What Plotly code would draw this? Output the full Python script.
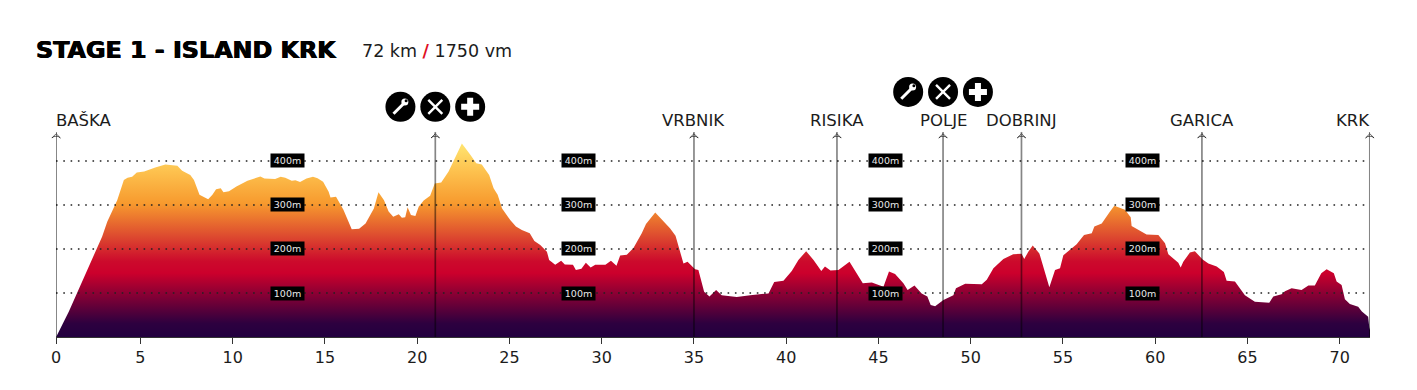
import plotly.graph_objects as go

km = [0.43,1.12,2.92,3.2,3.74,4.1,4.3,4.55,4.8,5.2,5.8,6.35,7.0,7.26,7.7,7.9,8.2,8.44,8.67,8.9,9.1,9.35,9.5,9.8,10.2,10.8,11.15,11.5,11.72,12.3,12.6,12.85,13.2,13.4,13.65,14.0,14.35,14.6,14.9,15.2,15.3,15.6,16.0,16.27,16.45,16.85,17.2,17.65,17.9,18.2,18.45,18.7,19.0,19.17,19.35,19.48,19.66,19.9,20.08,20.35,20.7,20.95,21.3,21.7,22.06,22.42,22.88,23.2,23.5,23.9,24.14,24.36,24.6,25.04,25.35,25.67,26.1,26.35,26.67,27.03,27.15,27.48,27.8,28.0,28.44,28.6,28.9,29.14,29.4,29.65,30.2,30.5,30.8,31.0,31.36,31.72,32.17,32.4,32.9,33.35,33.7,34.0,34.43,34.65,35.06,35.24,35.55,35.84,36.2,36.5,36.96,37.32,38.05,39.04,39.35,39.85,40.3,40.66,41.08,41.48,41.9,42.1,42.4,42.83,43.43,43.82,44.15,44.64,45.27,45.57,45.9,46.35,46.58,46.95,47.34,47.65,47.83,48.07,48.52,49.06,49.2,49.7,50.6,50.87,51.23,51.77,52.3,52.76,52.9,53.12,53.36,53.72,53.94,54.26,54.57,54.84,55.02,55.74,56.14,56.56,56.7,57.1,57.55,57.78,58.36,58.67,58.72,59.17,59.53,60.17,60.53,60.71,61.25,61.38,61.52,61.88,62.15,62.57,62.88,63.33,63.72,63.87,64.32,64.86,65.4,66.18,66.4,66.85,67.03,67.39,67.93,68.3,68.65,69.0,69.29,69.68,69.83,70.1,70.28,70.55,71.0,71.2,71.54,71.6,71.68,71.72]
elevation = [0,58,228,262,311,357,362,364,374,376,385,392,389,378,368,357,323,317,313,323,336,338,329,331,342,355,360,365,360,359,364,362,355,356,352,360,364,361,353,330,317,319,289,262,245,246,258,292,329,311,285,273,279,271,272,295,277,275,296,310,321,349,351,376,410,440,414,395,392,368,338,323,292,266,251,243,236,218,209,194,175,164,173,165,164,152,155,169,158,164,164,173,162,185,187,202,236,257,283,262,247,230,167,171,154,152,103,92,107,95,92,91,95,99,125,128,150,175,195,175,150,160,151,152,171,145,122,124,114,149,143,122,107,117,99,92,73,70,84,95,111,121,120,130,156,177,188,189,177,194,208,190,160,113,152,156,186,211,232,236,251,258,285,298,289,272,252,242,233,232,213,188,169,158,171,192,195,176,167,160,148,128,126,95,80,78,92,97,104,111,107,117,117,145,154,145,126,118,86,75,69,58,46,22,10,3]

tick_km = [0.43,5,10,15,20,25,30,35,40,45,50,55,60,65,70]
tick_labels = ["0","5","10","15","20","25","30","35","40","45","50","55","60","65","70"]
grid_levels = [100,200,300,400]
grid_label_km = [12.96,28.73,45.36,59.3]
places = ["BAŠKA","VRBNIK","RISIKA","POLJE","DOBRINJ","GARICA","KRK"]
place_km = [0.43,35.0,42.75,48.5,52.75,62.53,71.63]
place_anchor = ["left","center","center","center","center","center","right"]
place_shift = [-2,0,0,0,0,0,2]
aid_km = [20.98,48.5]
aid_height = [523,557]
icon_offsets = [-1.89,0,1.89]

X0, X1 = 0.4225, 71.64
DARK = "#1c1c1c"
fig = go.Figure()

fig.add_trace(go.Scatter(
    x=km, y=elevation, mode="lines", fill="tozeroy", cliponaxis=False, line=dict(width=0, color="#ffe066"),
    fillgradient=dict(type="vertical", start=0, stop=440, colorscale=[
        [0.0,"#22003f"],[0.07,"#2d003f"],[0.33,"#cc002c"],[0.39,"#cc0a2c"],[0.52,"#dd4a2f"],
        [0.69,"#f79a2e"],[0.85,"#fdc04d"],[1.0,"#ffe570"]]),
    hoverinfo="skip"))

for lv in grid_levels:
    fig.add_trace(go.Scatter(x=[X0,X1], y=[lv,lv], mode="lines",
                             line=dict(color="#222222", width=1.6, dash="1.6px,5.7px"), hoverinfo="skip"))

for k in [place_km[0], aid_km[0]] + place_km[1:]:
    fig.add_trace(go.Scatter(x=[k,k], y=[0,466], mode="lines", cliponaxis=False,
                             line=dict(color="rgba(0,0,0,0.48)", width=1.7), hoverinfo="skip"))
    fig.add_trace(go.Scatter(x=[k], y=[462], mode="markers", cliponaxis=False,
                             marker=dict(symbol="arrow-wide-open", size=6, color="rgba(0,0,0,0.6)",
                                         line=dict(width=1, color="rgba(0,0,0,0.6)")), hoverinfo="skip"))

for k, h in zip(aid_km, aid_height):
    xs = [k+o for o in icon_offsets]
    fig.add_trace(go.Scatter(x=xs, y=[h]*3, mode="markers", cliponaxis=False,
                             marker=dict(symbol="circle", size=30, color="#000000"), hoverinfo="skip"))
    fig.add_trace(go.Scatter(x=[xs[0]-0.05], y=[h-2], mode="markers", cliponaxis=False,
                             marker=dict(symbol="line-ne", size=12, line=dict(color="#ffffff", width=3)), hoverinfo="skip"))
    fig.add_trace(go.Scatter(x=[xs[0]+0.24], y=[h+11], mode="markers", cliponaxis=False,
                             marker=dict(symbol="circle", size=7, color="#ffffff"), hoverinfo="skip"))
    fig.add_trace(go.Scatter(x=[xs[0]+0.31], y=[h+14], mode="markers", cliponaxis=False,
                             marker=dict(symbol="circle", size=3, color="#000000"), hoverinfo="skip"))
    fig.add_trace(go.Scatter(x=[xs[1]], y=[h], mode="markers", cliponaxis=False,
                             marker=dict(symbol="x-thin", size=14, line=dict(color="#ffffff", width=2.4)), hoverinfo="skip"))
    fig.add_trace(go.Scatter(x=[xs[2]], y=[h], mode="markers", cliponaxis=False,
                             marker=dict(symbol="cross", size=15, color="#ffffff"), hoverinfo="skip"))

fig.update_layout(
    width=1409, height=382, margin=dict(l=48, r=47, t=52, b=53),
    paper_bgcolor="#ffffff", plot_bgcolor="#ffffff", showlegend=False,
    title=dict(text="<b>STAGE 1 - ISLAND KRK</b>", x=28/1409, xanchor="left", y=1-42/382, yanchor="middle",
               xref="container", yref="container",
               font=dict(family="DejaVu Sans", size=23.8, color="#000000",
                         shadow="0.5px 0 0 #000, -0.5px 0 0 #000")),
    xaxis=dict(range=[X0,X1], tickvals=tick_km, ticktext=tick_labels, ticks="outside", ticklen=6,
               tickcolor="#333333", tickwidth=1, showgrid=False, zeroline=False, showline=True,
               linecolor="#333333", linewidth=1, tickangle=0,
               tickfont=dict(family="DejaVu Sans", size=16, color=DARK)),
    yaxis=dict(range=[0,629.5], visible=False),
)
fig.add_annotation(x=(362-56)/1314, y=(337-51)/277, xref="paper", yref="paper", xanchor="left", yanchor="middle", showarrow=False,
                   text="72 km <span style='color:#e0101f'><b>/</b></span> 1750 vm",
                   xshift=-2, font=dict(family="DejaVu Sans", size=17.5, color=DARK))
for k in grid_label_km:
    for lv in grid_levels:
        fig.add_annotation(x=k, y=lv, xref="x", yref="y", text=f"{lv}m", showarrow=False,
                           bgcolor="#000000", font=dict(family="DejaVu Sans", size=9.5, color="#e8e8e8"),
                           borderpad=1, width=31, height=11)
for name, k, a, s in zip(places, place_km, place_anchor, place_shift):
    fig.add_annotation(x=k, y=491, xref="x", yref="y", text=name, showarrow=False, xanchor=a, yanchor="middle",
                       xshift=s, font=dict(family="DejaVu Sans", size=16.5, color=DARK))
fig.write_html("out.html")
